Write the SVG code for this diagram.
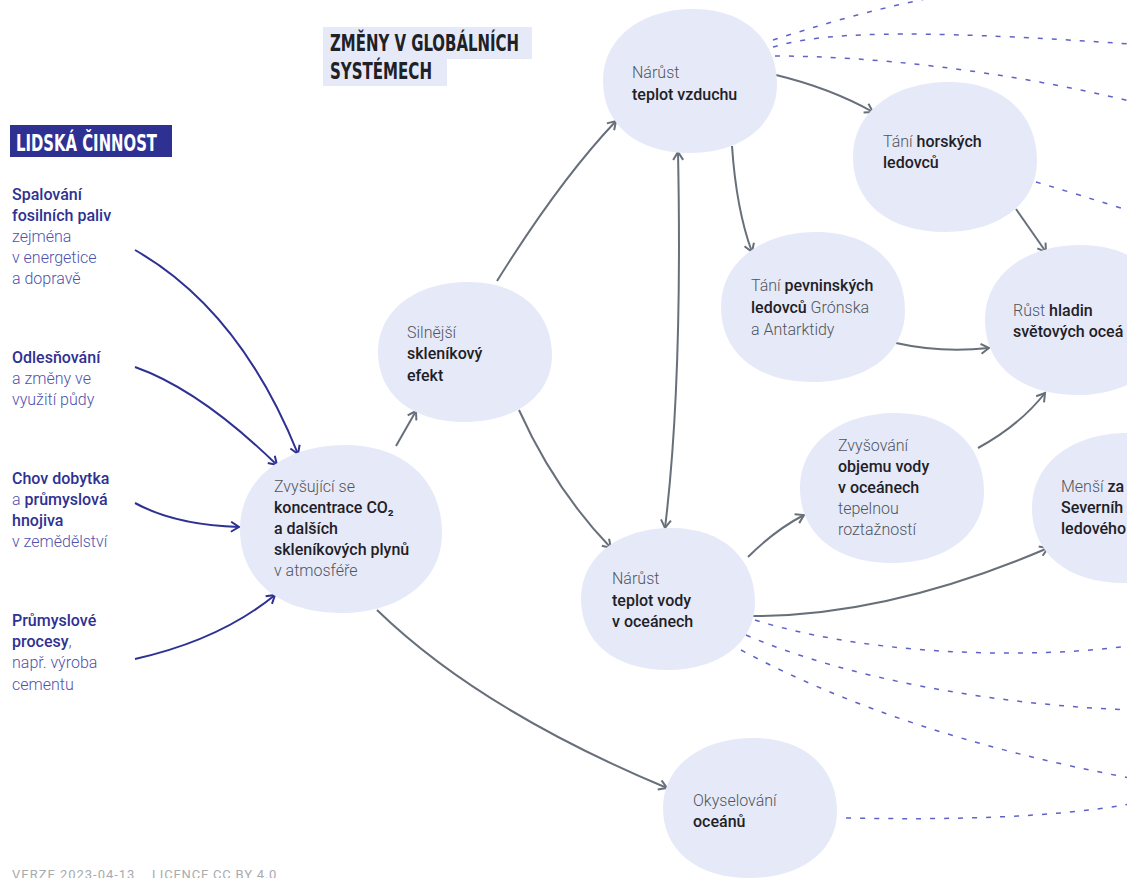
<svg xmlns="http://www.w3.org/2000/svg" xmlns:xlink="http://www.w3.org/1999/xlink" width="1127" height="878" viewBox="0 0 1127 878">
<style>
text{font-family:Roboto,"Liberation Sans",sans-serif;font-size:16px}
.r{font-weight:300;fill:#50555c}
.b{font-weight:500;fill:#1e2126}
.lb{font-weight:500;fill:#2e3192}
.lr{font-weight:300;fill:#4e52ad}
.blob{fill:#e6e9f8}
.hd{font-family:"Liberation Sans Narrow","DejaVu Sans Condensed","Liberation Sans",sans-serif;font-size:23px;font-weight:700}
.g{fill:none;stroke:#67707a;stroke-width:2}
.n{fill:none;stroke:#2e3192;stroke-width:2}
.d{fill:none;stroke:#5f63c6;stroke-width:1.5;stroke-dasharray:5 9}
.foot{font-size:13px;fill:#a8abb0;letter-spacing:0.6px;font-weight:400}
</style>
<defs>
<path id="blob" d="M100,5 C100,62 58,100 0,100 C-62,100 -100,60 -100,0 C-100,-60 -56,-100 4,-100 C64,-100 100,-56 100,5 Z"/>
<marker id="ag" viewBox="0 0 12 12" refX="10" refY="6" markerWidth="12" markerHeight="12" markerUnits="userSpaceOnUse" orient="auto-start-reverse">
<path d="M2,1 L10,6 L2,11" fill="none" stroke="#67707a" stroke-width="2"/>
</marker>
<marker id="an" viewBox="0 0 12 12" refX="10" refY="6" markerWidth="12" markerHeight="12" markerUnits="userSpaceOnUse" orient="auto">
<path d="M2,1 L10,6 L2,11" fill="none" stroke="#2e3192" stroke-width="2"/>
</marker>
</defs>
<rect width="1127" height="878" fill="#ffffff"/>

<g id="headers">
<rect x="323" y="27" width="209" height="32" fill="#e6e9f8"/>
<rect x="323" y="59" width="124" height="27" fill="#e6e9f8"/>
<text class="hd" x="330" y="51" fill="#1e2126" textLength="189" lengthAdjust="spacingAndGlyphs">ZMĚNY V GLOBÁLNÍCH</text>
<text class="hd" x="330" y="79" fill="#1e2126" textLength="102" lengthAdjust="spacingAndGlyphs">SYSTÉMECH</text>
<rect x="10" y="125" width="162" height="32" fill="#2e3192"/>
<text class="hd" x="16" y="151" fill="#ffffff" textLength="141" lengthAdjust="spacingAndGlyphs">LIDSKÁ ČINNOST</text>
</g>

<g id="connectors">
<path class="d" d="M773,40 C820,25 870,10 935,-3"/>
<path class="d" d="M773,47 C820,33 900,28 1130,44"/>
<path class="d" d="M775,56 C870,56 1000,70 1130,101"/>
<path class="d" d="M1036,182 Q1080,195 1130,211"/>
<path class="d" d="M755,620 C850,650 1000,662 1130,646"/>
<path class="d" d="M746,635 C850,680 1000,705 1130,710"/>
<path class="d" d="M741,650 Q900,735 1130,778"/>
<path class="d" d="M846,818 C950,820 1050,818 1130,804"/>

<path class="n" d="M135,250 Q240,310 298,454" marker-end="url(#an)"/>
<path class="n" d="M135,367 Q200,390 277,465" marker-end="url(#an)"/>
<path class="n" d="M135,503 Q175,525 239,527" marker-end="url(#an)"/>
<path class="n" d="M135,659 Q220,640 275,595" marker-end="url(#an)"/>

<path class="g" d="M396,446 L416,411" marker-end="url(#ag)"/>
<path class="g" d="M497,281 Q560,180 616,121" marker-end="url(#ag)"/>
<path class="g" d="M519,410 Q555,490 611,548" marker-end="url(#ag)"/>
<path class="g" d="M678,152 C681,300 677,430 665,528" marker-start="url(#ag)" marker-end="url(#ag)"/>
<path class="g" d="M732,146 C735,190 742,225 752,252" marker-end="url(#ag)"/>
<path class="g" d="M776,75 Q830,88 873,112" marker-end="url(#ag)"/>
<path class="g" d="M1016,209 L1046,252" marker-end="url(#ag)"/>
<path class="g" d="M896,343 Q940,353 989,348" marker-end="url(#ag)"/>
<path class="g" d="M978,448 Q1020,425 1045,393" marker-end="url(#ag)"/>
<path class="g" d="M748,557 Q775,530 804,515" marker-end="url(#ag)"/>
<path class="g" d="M753,616 C850,616 950,590 1048,548" marker-end="url(#ag)"/>
<path class="g" d="M377,610 Q480,710 667,788" marker-end="url(#ag)"/>
</g>

<g id="src-spalovani">
<text x="12" y="200" class="lb">Spalování</text>
<text x="12" y="221" class="lb">fosilních paliv</text>
<text x="12" y="242" class="lr">zejména</text>
<text x="12" y="263" class="lr">v energetice</text>
<text x="12" y="284" class="lr">a dopravě</text>
</g>
<g id="src-odlesnovani">
<text x="12" y="363" class="lb">Odlesňování</text>
<text x="12" y="384" class="lr">a změny ve</text>
<text x="12" y="405" class="lr">využití půdy</text>
</g>
<g id="src-chov">
<text x="12" y="484" class="lb">Chov dobytka</text>
<text x="12" y="505"><tspan class="lr">a </tspan><tspan class="lb">průmyslová</tspan></text>
<text x="12" y="526" class="lb">hnojiva</text>
<text x="12" y="547" class="lr">v zemědělství</text>
</g>
<g id="src-prumysl">
<text x="12" y="626" class="lb">Průmyslové</text>
<text x="12" y="647"><tspan class="lb">procesy</tspan><tspan class="lr">,</tspan></text>
<text x="12" y="668" class="lr">např. výroba</text>
<text x="12" y="690" class="lr">cementu</text>
</g>

<g id="n-co2">
<use href="#blob" class="blob" transform="translate(341,529) scale(1.01,0.84)"/>
<text x="274" y="492" class="r">Zvyšující se</text>
<text x="274" y="513" class="b">koncentrace CO₂</text>
<text x="274" y="534" class="b">a dalších</text>
<text x="274" y="555" class="b">skleníkových plynů</text>
<text x="274" y="576" class="r">v atmosféře</text>
</g>
<g id="n-sklenik">
<use href="#blob" class="blob" transform="translate(465,352) scale(0.87,0.70)"/>
<text x="407" y="338" class="r">Silnější</text>
<text x="407" y="359" class="b">skleníkový</text>
<text x="407" y="381" class="b">efekt</text>
</g>
<g id="n-vzduch">
<use href="#blob" class="blob" transform="translate(690,81) scale(0.87,0.72)"/>
<text x="632" y="78" class="r">Nárůst</text>
<text x="632" y="100" class="b">teplot vzduchu</text>
</g>
<g id="n-horske">
<use href="#blob" class="blob" transform="translate(945,157) scale(0.92,0.75)"/>
<text x="883" y="147"><tspan class="r">Tání </tspan><tspan class="b">horských</tspan></text>
<text x="883" y="168" class="b">ledovců</text>
</g>
<g id="n-pevninske">
<use href="#blob" class="blob" transform="translate(813,307) scale(0.92,0.75)"/>
<text x="751" y="291"><tspan class="r">Tání </tspan><tspan class="b">pevninských</tspan></text>
<text x="751" y="313"><tspan class="b">ledovců</tspan><tspan class="r"> Grónska</tspan></text>
<text x="751" y="335" class="r">a Antarktidy</text>
</g>
<g id="n-hladiny">
<use href="#blob" class="blob" transform="translate(1077,320) scale(0.92,0.75)"/>
<text x="1013" y="316"><tspan class="r">Růst </tspan><tspan class="b">hladin</tspan></text>
<text x="1013" y="337" class="b">světových oceá</text>
</g>
<g id="n-objem">
<use href="#blob" class="blob" transform="translate(892,488) scale(0.92,0.75)"/>
<text x="838" y="451" class="r">Zvyšování</text>
<text x="838" y="472" class="b">objemu vody</text>
<text x="838" y="493" class="b">v oceánech</text>
<text x="838" y="514" class="r">tepelnou</text>
<text x="838" y="535" class="r">roztažností</text>
</g>
<g id="n-zaledneni">
<use href="#blob" class="blob" transform="translate(1124,508) scale(0.92,0.75)"/>
<text x="1061" y="492"><tspan class="r">Menší </tspan><tspan class="b">za</tspan></text>
<text x="1061" y="513" class="b">Severníh</text>
<text x="1061" y="534" class="b">ledového</text>
</g>
<g id="n-voda">
<use href="#blob" class="blob" transform="translate(668,599) scale(0.87,0.71)"/>
<text x="612" y="584" class="r">Nárůst</text>
<text x="612" y="606" class="b">teplot vody</text>
<text x="612" y="627" class="b">v oceánech</text>
</g>
<g id="n-okyselovani">
<use href="#blob" class="blob" transform="translate(750,808) scale(0.87,0.70)"/>
<text x="693" y="806" class="r">Okyselování</text>
<text x="693" y="827" class="b">oceánů</text>
</g>

<g id="footer">
<text x="12" y="879" class="foot" textLength="123">VERZE 2023-04-13</text>
<text x="152" y="879" class="foot" textLength="125">LICENCE CC BY 4.0</text>
</g>
</svg>
